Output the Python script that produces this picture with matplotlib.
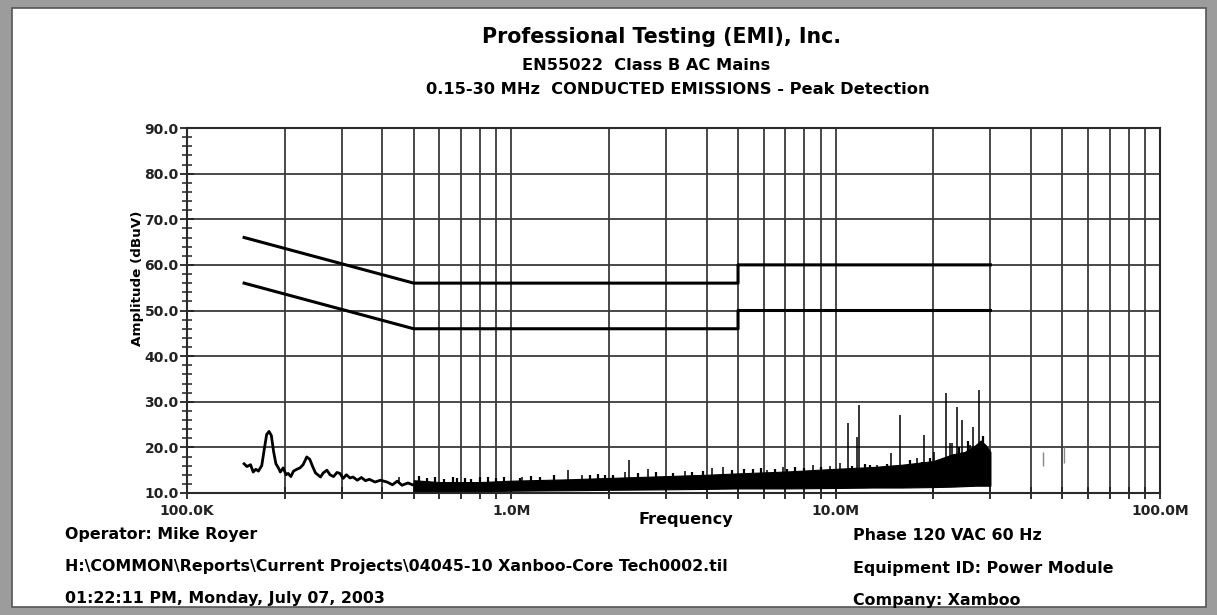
import numpy as np
import matplotlib.pyplot as plt
from matplotlib.patches import Rectangle
from matplotlib.ticker import FixedLocator, FixedFormatter, MultipleLocator

# limit lines (EN55022 class B), freq in Hz, level in dBuV
qp_freq = [150e3, 500e3, 5e6, 5e6, 30e6]
qp_level = [66, 56, 56, 60, 60]
avg_freq = [150e3, 500e3, 5e6, 5e6, 30e6]
avg_level = [56, 46, 46, 50, 50]

# low-frequency part of the scan (single trace), kHz / dBuV
lf_khz = [150, 153, 157, 160, 163, 166, 170, 173, 176, 179, 182, 185, 188, 191,
          194, 198, 202, 205, 209, 213, 218, 223, 228, 234, 239, 244, 249, 254,
          258, 263, 270, 276, 283, 290, 296, 303, 310, 318, 325, 335, 345, 355,
          365, 380, 395, 414, 430, 445, 460, 480, 500]
lf_db = [16.4, 15.8, 16.2, 14.6, 15.2, 14.8, 16.0, 19.5, 22.8, 23.5, 22.6, 19.0, 16.4, 15.6,
         14.6, 15.5, 14.0, 14.3, 13.6, 14.8, 15.2, 15.5, 16.2, 17.9, 17.4, 15.8, 14.4, 13.9,
         13.5, 14.4, 15.0, 14.0, 13.6, 14.5, 14.3, 13.2, 14.0, 13.3, 13.5, 12.8, 13.4, 12.7,
         13.0, 12.4, 12.8, 12.4, 11.8, 12.6, 11.7, 12.2, 11.7]

# dense noise band 0.5 - 30 MHz (MHz / dBuV), envelope of the trace
band_mhz = [0.5, 0.6, 0.8, 1.0, 1.5, 2.0, 3.0, 4.0, 5.0, 7.0, 10.0, 13.0, 16.0, 20.0,
            23.0, 25.0, 27.0, 28.0, 29.0, 30.0]
band_top = [12.8, 12.4, 12.4, 12.7, 13.0, 13.3, 13.7, 14.0, 14.3, 14.7, 15.3, 15.7, 16.2, 17.0,
            18.5, 19.0, 20.5, 21.5, 20.5, 19.0]
band_bot = [10.4, 10.4, 10.4, 10.5, 10.6, 10.7, 10.8, 10.9, 11.0, 11.0, 11.1, 11.2, 11.2, 11.3,
            11.4, 11.5, 11.6, 11.6, 11.6, 11.6]

# small ragged peaks on top of the band (MHz / dBuV)
jag_mhz = [0.52, 0.55, 0.58, 0.62, 0.66, 0.68, 0.72, 0.75, 0.80, 0.85, 0.90, 0.95,
           1.06, 1.15, 1.23, 1.35, 1.75, 1.85, 1.95, 2.06, 2.45, 2.80, 3.15, 3.60,
           3.90, 4.80, 5.20, 5.56, 5.90, 6.50, 7.08, 7.50, 8.00, 9.00, 11.2, 12.3,
           12.8, 13.7, 14.4, 16.9, 18.5, 19.5, 21.0, 24.0, 25.5, 28.5]
jag_top = [13.8, 13.2, 13.6, 13.0, 13.5, 13.3, 13.2, 13.1, 13.6, 13.4, 13.2, 13.5,
           13.3, 13.8, 13.5, 13.9, 14.0, 14.2, 13.9, 14.0, 14.3, 14.5, 14.4, 14.6,
           14.8, 15.0, 15.2, 15.2, 15.4, 15.3, 15.2, 15.6, 15.5, 15.8, 16.0, 16.3,
           16.1, 15.5, 16.4, 17.2, 16.8, 17.6, 16.8, 20.0, 21.5, 22.5]

# single peaks sticking out of the band (MHz / dBuV)
spike_mhz = [0.45, 1.08, 1.50, 1.65, 2.24, 2.31, 2.64, 3.43, 4.16, 4.50, 6.14, 6.88,
             8.5, 9.6, 10.3, 10.9, 11.6, 11.8, 13.4, 14.8, 15.8, 17.8, 18.7, 20.1,
             21.9, 22.5, 22.8, 23.7, 24.5, 26.0, 26.5, 27.7]
spike_top = [13.6, 13.5, 15.0, 14.0, 14.6, 17.2, 15.2, 14.8, 15.4, 15.7, 15.0, 15.7,
             16.1, 15.9, 16.6, 25.3, 22.3, 29.3, 16.1, 18.8, 27.0, 17.7, 22.7, 19.0,
             31.9, 21.0, 21.0, 28.8, 26.0, 20.5, 24.5, 32.6]

# stray marks above 30 MHz
stray_mhz = [43.5, 50.5]
stray_lo = [16.0, 16.5]
stray_hi = [19.0, 20.0]

x_ticks = [1e5, 1e6, 1e7, 1e8]
x_labels = ['100.0K', '1.0M', '10.0M', '100.0M']

bold = {'family': 'DejaVu Sans', 'weight': 'bold'}

fig = plt.figure(figsize=(12.17, 6.15), dpi=100)
fig.patch.set_facecolor('#9c9c9c')
fig.patches.append(Rectangle((12 / 1217, 8 / 615), 1194 / 1217, 599 / 615,
                             transform=fig.transFigure, facecolor='white',
                             edgecolor='#555555', lw=1.2, zorder=-10))

ax = fig.add_axes([187 / 1217, 1 - 493 / 615, (1160 - 187) / 1217, (493 - 128) / 615])
ax.set_facecolor('white')
ax.set_xscale('log')
ax.set_xlim(1e5, 1e8)
ax.set_ylim(10, 90)

# grid
grid_x = [m * 10 ** e for e in (5, 6, 7) for m in range(1, 10)][1:] + [1e8]
for gx in grid_x:
    ax.axvline(gx, color='#3a3a3a', lw=1.3, zorder=1)
for gy in range(20, 90, 10):
    ax.axhline(gy, color='#3a3a3a', lw=1.3, zorder=1)

for s in ax.spines.values():
    s.set_color('#2a2a2a')
    s.set_linewidth(1.5)

ax.xaxis.set_major_locator(FixedLocator(x_ticks))
ax.xaxis.set_major_formatter(FixedFormatter(x_labels))
ax.xaxis.set_minor_locator(FixedLocator(grid_x))
ax.xaxis.set_minor_formatter(FixedFormatter([''] * len(grid_x)))
ax.yaxis.set_major_locator(MultipleLocator(10))
ax.yaxis.set_minor_locator(MultipleLocator(2))
ax.yaxis.set_major_formatter(lambda v, p: f'{v:.1f}')
ax.tick_params(axis='both', which='both', direction='inout', color='#222222')
ax.tick_params(axis='y', which='major', length=10, width=1.3, pad=1)
ax.tick_params(axis='y', which='minor', length=7, width=1.1)
ax.tick_params(axis='x', which='major', length=8, width=1.3, pad=4)
ax.tick_params(axis='x', which='minor', length=8, width=1.3)
for lab in ax.get_xticklabels() + ax.get_yticklabels():
    lab.set_fontfamily('DejaVu Sans')
    lab.set_fontweight('bold')
    lab.set_fontsize(10)
    lab.set_color('#222222')

# limits
ax.plot(qp_freq, qp_level, color='black', lw=2.2, zorder=3)
ax.plot(avg_freq, avg_level, color='black', lw=2.2, zorder=3)

# scan
ax.plot(np.array(lf_khz) * 1e3, lf_db, color='black', lw=2.0, zorder=3)
ax.fill_between(np.array(band_mhz) * 1e6, band_bot, band_top, color='black', lw=0.8, zorder=3)
ax.vlines(np.array(jag_mhz) * 1e6, 11.5, jag_top, color='black', lw=1.6, zorder=3)
ax.vlines(np.array(spike_mhz) * 1e6, 12, spike_top, color='black', lw=1.1, zorder=3)
ax.vlines(np.array(stray_mhz) * 1e6, stray_lo, stray_hi, color='#888888', lw=1.0, zorder=3)

# texts
fig.text(0.544, 0.94, 'Professional Testing (EMI), Inc.', ha='center', va='center',
         fontdict=bold, size=14.8)
fig.text(0.531, 0.894, 'EN55022  Class B AC Mains', ha='center', va='center', fontdict=bold, size=11.7)
fig.text(0.557, 0.855, '0.15-30 MHz  CONDUCTED EMISSIONS - Peak Detection', ha='center',
         va='center', fontdict=bold, size=11.7)
fig.text(138 / 1217, 1 - 278 / 615, 'Amplitude (dBuV)', rotation=90, ha='center', va='center',
         fontdict=bold, size=9.7)
fig.text(0.5637, 0.156, 'Frequency', ha='center', va='center', fontdict=bold, size=11.6)

left = ['Operator: Mike Royer',
        'H:\\COMMON\\Reports\\Current Projects\\04045-10 Xanboo-Core Tech0002.til',
        '01:22:11 PM, Monday, July 07, 2003']
right = ['Phase 120 VAC 60 Hz', 'Equipment ID: Power Module', 'Company: Xamboo']
for i, yy in enumerate([534, 567, 599]):
    fig.text(65 / 1217, 1 - yy / 615, left[i], ha='left', va='center', fontdict=bold, size=11.4)
    fig.text(853 / 1217, 1 - (yy + 2) / 615, right[i], ha='left', va='center', fontdict=bold, size=11.4)

fig.savefig('out.png', dpi=100, facecolor=fig.get_facecolor())
